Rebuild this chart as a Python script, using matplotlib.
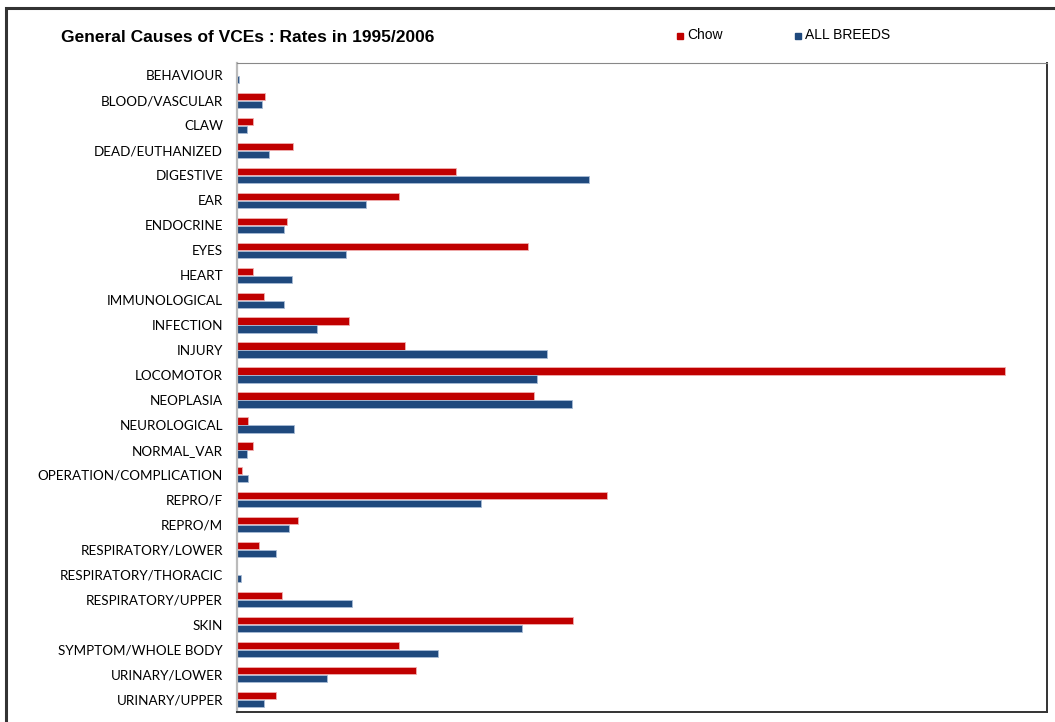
import numpy as np
import matplotlib
matplotlib.use('Agg')
import matplotlib.pyplot as plt
from matplotlib.patches import Rectangle

categories = ['BEHAVIOUR', 'BLOOD/VASCULAR', 'CLAW', 'DEAD/EUTHANIZED', 'DIGESTIVE',
              'EAR', 'ENDOCRINE', 'EYES', 'HEART', 'IMMUNOLOGICAL', 'INFECTION',
              'INJURY', 'LOCOMOTOR', 'NEOPLASIA', 'NEUROLOGICAL', 'NORMAL_VAR',
              'OPERATION/COMPLICATION', 'REPRO/F', 'REPRO/M', 'RESPIRATORY/LOWER',
              'RESPIRATORY/THORACIC', 'RESPIRATORY/UPPER', 'SKIN', 'SYMPTOM/WHOLE BODY',
              'URINARY/LOWER', 'URINARY/UPPER']
chow = [0, 28, 16, 56, 219, 162, 50, 291, 16, 27, 112, 168, 768, 297, 11, 16,
        5, 370, 61, 22, 0, 45, 336, 162, 179, 39]
all_breeds = [2, 25, 10, 32, 352, 129, 47, 109, 55, 47, 80, 310, 300, 335, 57, 10,
              11, 244, 52, 39, 4, 115, 285, 201, 90, 27]

W, H = 1055, 722
fig = plt.figure(figsize=(W / 100, H / 100), dpi=100)

# outer chart frame
fig.patches.append(Rectangle((6 / W, -0.05), 1.2, 1 - 8 / H + 0.05, transform=fig.transFigure,
                             fill=False, edgecolor='#333333', linewidth=2.2))

ax = fig.add_axes([237 / W, 1 - 712 / H, (1047 - 237) / W, (712 - 63) / H])
y = np.arange(len(categories))
h = 0.29
ax.barh(y - 0.16, chow, height=h, color='#C00000', edgecolor='#F0B0B0', linewidth=0.6)
ax.barh(y + 0.16, all_breeds, height=h, color='#1F497D', edgecolor='#A8BCD6', linewidth=0.6)

ax.set_xlim(0, 810)
ax.set_ylim(len(categories) - 0.5, -0.5)
ax.set_yticks(y)
ax.set_yticklabels(categories, fontfamily='Lato', fontsize=9.7)
ax.tick_params(axis='y', length=0, pad=10)
ax.set_xticks([])
ax.spines['left'].set_color('#BBBBBB')
ax.spines['left'].set_linewidth(1.6)
ax.spines['top'].set_color('#888888')
ax.spines['top'].set_linewidth(0.8)
ax.spines['right'].set_color('#333333')
ax.spines['right'].set_linewidth(1.4)
ax.spines['bottom'].set_color('#333333')
ax.spines['bottom'].set_linewidth(1.4)

fig.text(61 / W, 1 - 37 / H, 'General Causes of VCEs : Rates in 1995/2006',
         fontfamily='Liberation Sans', fontweight='bold', fontsize=12.5, va='center')

for x0, col, lab in [(677, '#C00000', 'Chow'), (795, '#1F497D', 'ALL BREEDS')]:
    fig.patches.append(Rectangle((x0 / W, 1 - 39 / H), 6 / W, 6 / H, transform=fig.transFigure,
                                 color=col))
    fig.text((x0 + 10) / W, 1 - 35 / H, lab, fontfamily='Liberation Sans', fontsize=10,
             va='center')

fig.savefig('out.png', dpi=100, facecolor='white')
